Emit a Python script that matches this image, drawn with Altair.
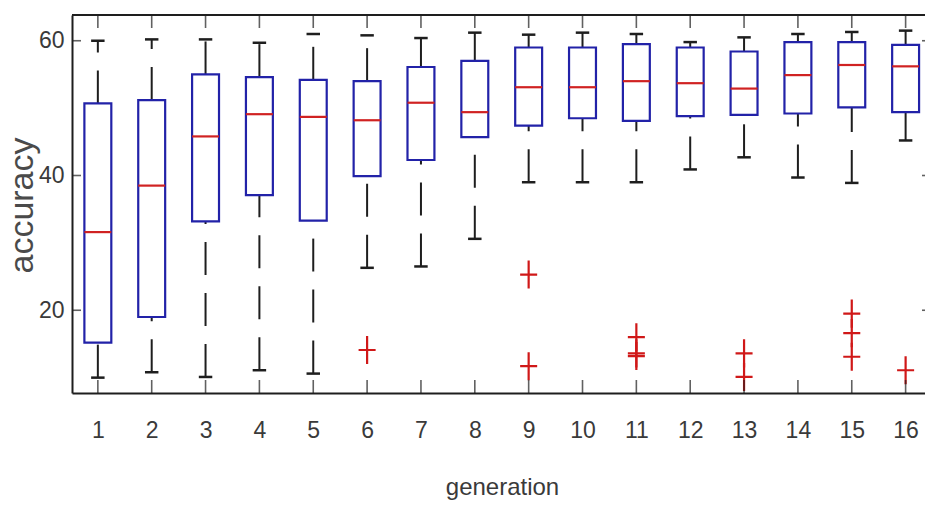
import altair as alt
import pandas as pd

# Box-plot summary per generation
generations = list(range(1, 17))
whisker_low = [10.0, 10.8, 10.1, 11.1, 10.6, 26.3, 26.5, 30.6, 39.0, 39.0, 39.0, 40.9, 42.7, 39.7, 38.9, 45.2]
quartile_1 = [15.2, 19.0, 33.2, 37.1, 33.3, 39.9, 42.3, 45.7, 47.4, 48.5, 48.1, 48.8, 49.0, 49.2, 50.1, 49.4]
medians = [31.6, 38.5, 45.8, 49.1, 48.7, 48.2, 50.8, 49.4, 53.1, 53.1, 54.0, 53.7, 52.9, 54.9, 56.4, 56.2]
quartile_3 = [50.7, 51.2, 55.0, 54.6, 54.2, 54.0, 56.1, 57.0, 59.0, 59.0, 59.5, 59.0, 58.4, 59.8, 59.8, 59.4]
whisker_high = [60.0, 60.2, 60.2, 59.7, 61.0, 60.8, 60.4, 61.2, 60.9, 61.2, 61.0, 59.8, 60.5, 61.0, 61.3, 61.5]

# Outlying runs
outlier_gen = [6, 9, 9, 11, 11, 11, 13, 13, 15, 15, 15, 16]
outlier_acc = [14.1, 25.3, 11.7, 16.0, 13.6, 13.2, 13.6, 10.1, 19.5, 16.6, 13.1, 11.1]

y_ticks = [20, 40, 60]

X_MIN, X_MAX = 0.52, 16.36
Y_MIN, Y_MAX = 7.72, 63.82

boxes = pd.DataFrame({
    "generation": generations,
    "lo": whisker_low,
    "q1": quartile_1,
    "med": medians,
    "q3": quartile_3,
    "hi": whisker_high,
})
outliers = pd.DataFrame({"generation": outlier_gen, "accuracy": outlier_acc})
yticks = pd.DataFrame({"v": y_ticks})

FONT = "Liberation Sans, Arial, sans-serif"
TEXT = "#3a3a3a"
BOX_BLUE = "#2222a8"
MED_RED = "#d02222"
BLACK = "#1e1e1e"

xs = alt.Scale(domain=[X_MIN, X_MAX], nice=False, zero=False)
ys = alt.Scale(domain=[Y_MIN, Y_MAX], nice=False, zero=False)

x_axis = alt.Axis(
    values=generations, format="d", ticks=False, tickSize=0, grid=False,
    domain=True, domainColor=BLACK, domainWidth=2,
    labelFont=FONT, labelFontSize=23, labelColor=TEXT, labelPadding=37,
    labelBaseline="middle", labelFlush=False,
    title="generation", titleFont=FONT, titleFontSize=24, titleColor=TEXT,
    titleFontWeight="normal", titleX=430, titleY=101, titleBaseline="alphabetic",
    titleAlign="center",
)
y_axis = alt.Axis(
    values=y_ticks, format="d", ticks=False, tickSize=0, grid=False,
    domain=True, domainColor=BLACK, domainWidth=2,
    labelFont=FONT, labelFontSize=23, labelColor=TEXT, labelPadding=8,
    labelBaseline="middle", labelFlush=False,
    title="accuracy", titleFont=FONT, titleFontSize=34,
    titleColor="#4a4a4a", titleFontWeight="normal", titleX=-40, titleY=190,
    titleAngle=270, titleAlign="center", titleBaseline="alphabetic",
)

base = alt.Chart(boxes)

# Dashed whiskers, drawn from the lower value upwards
whisk_lo = base.mark_rule(color=BLACK, strokeWidth=2, strokeDash=[33, 18]).encode(
    x=alt.X("generation:Q", scale=xs, axis=x_axis),
    y=alt.Y("lo:Q", scale=ys, axis=y_axis),
    y2="q1:Q",
)
whisk_hi = base.mark_rule(color=BLACK, strokeWidth=2, strokeDash=[33, 18]).encode(
    x=alt.X("generation:Q", scale=xs),
    y=alt.Y("q3:Q", scale=ys),
    y2="hi:Q",
)

# Whisker caps
caps = base.transform_fold(["lo", "hi"], as_=["end", "val"]).transform_calculate(
    xa="datum.generation - 0.125", xb="datum.generation + 0.125"
).mark_rule(color=BLACK, strokeWidth=2.5).encode(
    x=alt.X("xa:Q", scale=xs), x2="xb:Q", y=alt.Y("val:Q", scale=ys)
)

# Interquartile boxes
box = base.transform_calculate(
    xa="datum.generation - 0.25", xb="datum.generation + 0.25"
).mark_rect(fillOpacity=0, stroke=BOX_BLUE, strokeWidth=2.2).encode(
    x=alt.X("xa:Q", scale=xs), x2="xb:Q",
    y=alt.Y("q1:Q", scale=ys), y2="q3:Q",
)

# Medians
median = base.transform_calculate(
    xa="datum.generation - 0.25", xb="datum.generation + 0.25"
).mark_rule(color=MED_RED, strokeWidth=2.2).encode(
    x=alt.X("xa:Q", scale=xs), x2="xb:Q", y=alt.Y("med:Q", scale=ys)
)

# Outliers as '+' markers
plus = alt.Chart(outliers).mark_point(
    shape="M-1,0H1M0,-1.65V1.65", size=290, filled=False,
    stroke="#d01818", strokeWidth=2.2, opacity=1,
).encode(x=alt.X("generation:Q", scale=xs), y=alt.Y("accuracy:Q", scale=ys))

# Inward-pointing ticks on all four sides
tick_left = alt.Chart(yticks).mark_tick(orient="horizontal", size=18, thickness=1.6, color=BLACK, clip=True).encode(
    x=alt.datum(X_MIN, scale=xs), y=alt.Y("v:Q", scale=ys)
)
tick_right = alt.Chart(yticks).mark_tick(orient="horizontal", size=6, thickness=1.6, color=BLACK, clip=True).encode(
    x=alt.datum(X_MAX, scale=xs), y=alt.Y("v:Q", scale=ys)
)
tick_bottom = base.mark_tick(orient="vertical", size=26, thickness=1.6, color=BLACK, clip=True).encode(
    x=alt.X("generation:Q", scale=xs), y=alt.datum(Y_MIN, scale=ys)
)
tick_top = base.mark_tick(orient="vertical", size=26, thickness=1.6, color=BLACK, clip=True).encode(
    x=alt.X("generation:Q", scale=xs), y=alt.datum(Y_MAX, scale=ys)
)

# Upper frame line
top_frame = alt.Chart(yticks).mark_rule(color=BLACK, strokeWidth=2).encode(
    y=alt.datum(Y_MAX, scale=ys)
)

chart = alt.layer(
    whisk_lo, whisk_hi, caps, box, median, plus,
    tick_left, tick_right, tick_bottom, tick_top, top_frame,
).properties(
    width=853,
    height=378,
    autosize=alt.AutoSizeParams(type="none"),
    padding={"left": 72, "top": 15, "right": 0, "bottom": 114},
    background="white",
).configure_view(stroke=None)

chart.save("out.html", embed_options={"renderer": "svg", "actions": False})
